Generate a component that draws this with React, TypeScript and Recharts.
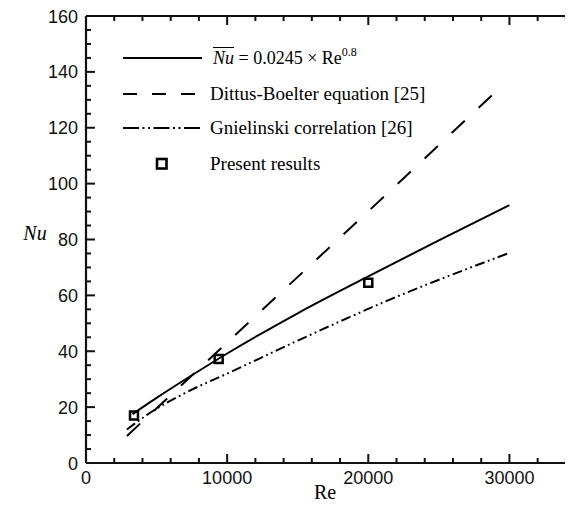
import React from 'react';
import { ComposedChart, Line, Scatter, XAxis, YAxis, Label } from 'recharts';

// ---- data ----
const solidRe = [3300, 5000, 7500, 10000, 15000, 20000, 25000, 30000];
const solidNu = [17.5, 23.3, 31.4, 39.2, 53.6, 66.8, 79.7, 92.3];

const dittusRe = [2900, 10400, 20300, 29600];
const dittusNu = [9.7, 45, 91.5, 135.6];

const gnielRe = [2900, 4400, 7000, 10260, 15000, 21440, 30000];
const gnielNu = [12, 17.5, 25, 32.6, 43.8, 58.3, 75.2];

const presentRe = [3400, 9400, 20000];
const presentNu = [17, 37.2, 64.5];

const xTickLabels = [0, 10000, 20000, 30000];
const yTickLabels = [0, 20, 40, 60, 80, 100, 120, 140, 160];
const xMinorStep = 2000;
const yMinorStep = 5;
const xMax = 35000;
const yMax = 160;

const xTicksAll = Array.from({ length: Math.floor(xMax / xMinorStep) + 1 }, (_, i) => i * xMinorStep);
const yTicksAll = Array.from({ length: yMax / yMinorStep + 1 }, (_, i) => i * yMinorStep);

const toData = (xs: number[], ys: number[]) => xs.map((re, i) => ({ re, nu: ys[i] }));
const solidData = toData(solidRe, solidNu);
const dittusData = toData(dittusRe, dittusNu);
const gnielData = toData(gnielRe, gnielNu);
const presentData = toData(presentRe, presentNu);

const SANS = '"Liberation Sans", Arial, Helvetica, sans-serif';
const SERIF = '"Liberation Serif", "Times New Roman", Times, serif';
const DASH = '18 19';
const DASHDOT = '10 3.5 1.8 3.5 1.8 3.5';
const INK = '#111';

const BottomTick = (p: any) => {
  const x = Number(p.x);
  const y = Number(p.y);
  const v = p.payload.value;
  const major = v % 10000 === 0;
  const len = major ? 9 : 5;
  return (
    <g>
      <rect x={x - 1} y={y - len} width={2} height={len} fill={INK} />
      {major && (
        <text x={x} y={y + 21} textAnchor="middle" fontSize={18} fontFamily={SANS} fill={INK}>{v}</text>
      )}
    </g>
  );
};
const TopTick = (p: any) => {
  const x = Number(p.x);
  const y = Number(p.y);
  const len = p.payload.value % 10000 === 0 ? 9 : 5;
  return <rect x={x - 1} y={y} width={2} height={len} fill={INK} />;
};
const LeftTick = (p: any) => {
  const x = Number(p.x);
  const y = Number(p.y);
  const v = p.payload.value;
  const major = v % 20 === 0;
  return (
    <g>
      <rect x={x} y={y - 1} width={major ? 9 : 5} height={2} fill={INK} />
      {major && (
        <text x={x - 8} y={y + 6.5} textAnchor="end" fontSize={18} fontFamily={SANS} fill={INK}>{v}</text>
      )}
    </g>
  );
};
const RightTick = (p: any) => {
  const x = Number(p.x);
  const y = Number(p.y);
  const len = p.payload.value % 20 === 0 ? 9 : 5;
  return <rect x={x - len} y={y - 1} width={len} height={2} fill={INK} />;
};

const legendText: React.CSSProperties = {
  position: 'absolute',
  fontFamily: SERIF,
  fontSize: 19,
  color: '#000',
  whiteSpace: 'nowrap',
  lineHeight: '22px',
  transform: 'translateY(-50%)',
};

// overlay coordinates: wrapper starts at page (8, 0)
const LegendOverlay = () => (
  <div style={{ position: 'absolute', left: 0, top: 0, zIndex: 0, pointerEvents: 'none' }}>
    <svg width={200} height={180} style={{ position: 'absolute', left: 0, top: 0 }}>
      <line x1={115} x2={194} y1={58} y2={58} stroke="#000" strokeWidth={2} />
      <line x1={115} x2={188} y1={94} y2={94} stroke="#000" strokeWidth={2.2} strokeDasharray="14 15" />
      <line x1={115} x2={193} y1={128} y2={128} stroke="#000" strokeWidth={2.2} strokeDasharray="16 3.5 2 3.5 2 3.5" />
      <rect x={149} y={159} width={9.5} height={9.5} fill="none" stroke="#000" strokeWidth={2.6} />
    </svg>
    <div style={{ ...legendText, left: 205, top: 58, fontSize: 18 }}>
      <span style={{ fontStyle: 'italic', textDecoration: 'overline' }}>Nu</span>
      <span> = 0.0245 × Re</span>
      <sup style={{ fontSize: 12, verticalAlign: 'top', lineHeight: '10px' }}>0.8</sup>
    </div>
    <div style={{ ...legendText, left: 202, top: 94 }}>Dittus-Boelter equation [25]</div>
    <div style={{ ...legendText, left: 202, top: 128 }}>Gnielinski correlation [26]</div>
    <div style={{ ...legendText, left: 202, top: 164 }}>Present results</div>
  </div>
);

export default function App() {
  return (
    <div style={{ position: 'relative', top: -8, width: 565, height: 517, overflow: 'hidden', background: '#fff' }}>
      <LegendOverlay />
      <div style={{ position: 'relative', zIndex: 1 }}>
        <ComposedChart width={582} height={517} margin={{ top: 8, right: 0, bottom: 0, left: 0 }}>
          <XAxis xAxisId="b" type="number" dataKey="re" domain={[0, xMax]} ticks={xTicksAll} interval={0}
            tickSize={0} tickMargin={0} tickLine={false} height={54}
            axisLine={{ stroke: INK, strokeWidth: 2.2 }} tick={(p: any) => <BottomTick {...p} />}>
            <Label content={() => (
              <text x={317} y={499} textAnchor="middle" fontSize={20} fontFamily={SERIF} fill="#000">Re</text>
            )} />
          </XAxis>
          <XAxis xAxisId="t" orientation="top" type="number" dataKey="re" domain={[0, xMax]} ticks={xTicksAll} interval={0}
            tickSize={0} tickMargin={0} tickLine={false} height={8}
            axisLine={{ stroke: INK, strokeWidth: 2.2 }} tick={(p: any) => <TopTick {...p} />} />
          <YAxis yAxisId="l" type="number" dataKey="nu" domain={[0, yMax]} ticks={yTicksAll} interval={0}
            tickSize={0} tickMargin={0} tickLine={false} width={78}
            axisLine={{ stroke: INK, strokeWidth: 2.2 }} tick={(p: any) => <LeftTick {...p} />}>
            <Label content={() => (
              <text x={27} y={240} textAnchor="middle" fontSize={20} fontStyle="italic" fontFamily={SERIF} fill="#000">Nu</text>
            )} />
          </YAxis>
          <YAxis yAxisId="r" orientation="right" type="number" dataKey="nu" domain={[0, yMax]} ticks={yTicksAll} interval={0}
            tickSize={0} tickMargin={0} tickLine={false} width={10}
            axisLine={{ stroke: INK, strokeWidth: 2.2 }} tick={(p: any) => <RightTick {...p} />} />
          {/* invisible series so the top and right frame axes get a scale */}
          <Line xAxisId="t" yAxisId="r" data={solidData} dataKey="nu" stroke="none" dot={false} activeDot={false} isAnimationActive={false} />
          <Line xAxisId="b" yAxisId="l" data={solidData} dataKey="nu" type="monotone" stroke="#000" strokeWidth={2}
            dot={false} activeDot={false} isAnimationActive={false} />
          <Line xAxisId="b" yAxisId="l" data={dittusData} dataKey="nu" stroke="#000" strokeWidth={2} strokeDasharray={DASH}
            dot={false} activeDot={false} isAnimationActive={false} />
          <Line xAxisId="b" yAxisId="l" data={gnielData} dataKey="nu" type="monotone" stroke="#000" strokeWidth={2} strokeDasharray={DASHDOT}
            dot={false} activeDot={false} isAnimationActive={false} />
          <Scatter xAxisId="b" yAxisId="l" data={presentData} dataKey="nu" shape="square" fill="none" stroke="#000" strokeWidth={2.5}
            isAnimationActive={false} />
        </ComposedChart>
      </div>
    </div>
  );
}
